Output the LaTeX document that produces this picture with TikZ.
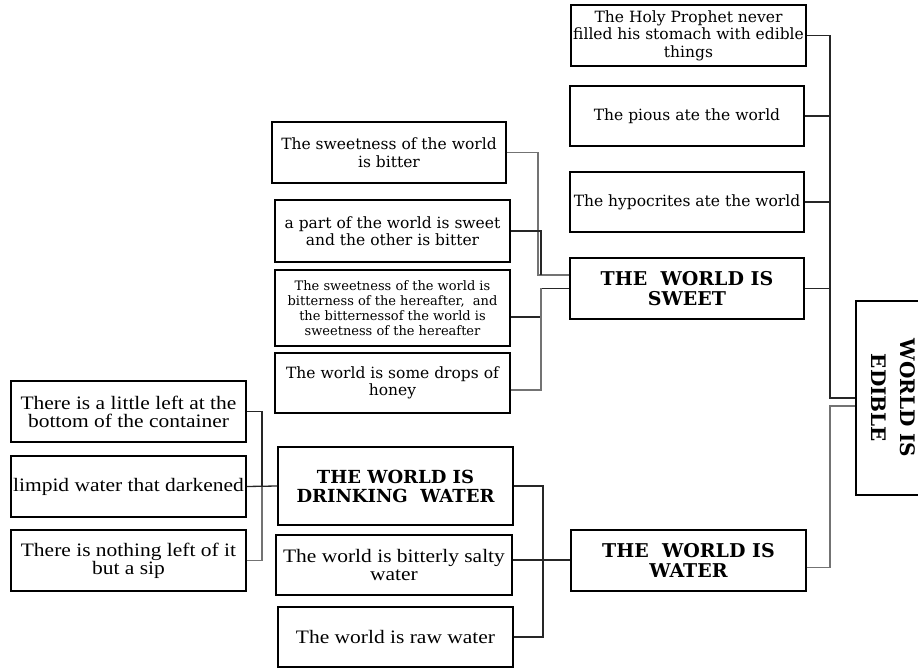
\documentclass[tikz,border=0pt]{standalone}
\usepackage{fontspec}
\setmainfont{DejaVu Serif}
\newfontfamily\tms[FakeStretch=1.13]{Liberation Serif}
\begin{document}
\begin{tikzpicture}[x=1pt,y=-1pt,
  box/.style={draw=black,line width=1.4pt,inner sep=0pt,align=center,minimum width=235pt,minimum height=61pt,font={\fontsize{15.5}{17.5}\selectfont}},
  tbox/.style={box,font={\tms\fontsize{19}{18}\selectfont}},
  hbox/.style={box,font={\bfseries\fontsize{19}{20}\selectfont}},
  link/.style={draw=black!85,line width=1.3pt},
  glink/.style={draw=black!55,line width=1.5pt}]
\useasboundingbox (0,0) rectangle (918,668);
% right column
\node[box] (hp) at (688.5,35.5) {The Holy Prophet never\\filled his stomach with edible\\things};
\node[box,minimum width=234pt,minimum height=60pt] (pious) at (687,116) {The pious ate the world};
\node[box,minimum width=234pt,minimum height=60pt] (hyp) at (687,202) {The hypocrites ate the world};
\node[hbox,minimum width=234pt] (sweet) at (687,288.5) {THE\ \ WORLD IS\\SWEET};
\node[hbox] (water) at (688.5,560.5) {THE\ \ WORLD IS\\WATER};
\node[draw=black,line width=1.4pt,minimum width=64pt,minimum height=194pt,inner sep=0pt] (edible) at (888,398) {};
\node[font={\bfseries\fontsize{20}{29}\selectfont},inner sep=0pt] (ediblet) at (892,398) {\rotatebox{-90}{\begin{tabular}{@{}c@{}}WORLD IS\\EDIBLE\end{tabular}}};
% sweet children
\node[box,minimum width=234pt] (sb) at (389,152.5) {The sweetness of the world\\is bitter};
\node[box,minimum height=62pt] (part) at (392.5,231) {a part of the world is sweet\\and the other is bitter};
\node[box,minimum height=76pt,font={\fontsize{13}{15}\selectfont}] (here) at (392.5,308) {The sweetness of the world is\\bitterness of the hereafter,\ \ and\\the bitternessof the world is\\sweetness of the hereafter};
\node[box,minimum height=60pt] (honey) at (392.5,383) {The world is some drops of\\honey};
% water children
\node[hbox,minimum height=78pt,font={\bfseries\fontsize{18}{19}\selectfont}] (drink) at (395.5,486) {THE WORLD IS\\DRINKING\ \ WATER};
\node[tbox,minimum width=236pt,minimum height=60pt] (salty) at (394,565) {The world is bitterly salty\\water};
\node[tbox,minimum height=60pt] (raw) at (395.5,637) {The world is raw water};
% left column
\node[tbox] (little) at (128.5,411.5) {There is a little left at the\\bottom of the container};
\node[tbox] (limpid) at (128.5,486.5) {limpid water that darkened};
\node[tbox] (nothing) at (128.5,560.5) {There is nothing left of it\\but a sip};
% connectors right
\coordinate (r1) at (830,398);
\coordinate (r2) at (830,406);
\draw[link] (hp.east) -| (r1) -- (r1 -| edible.west);
\draw[link] (pious.east) -- (pious.east -| r1);
\draw[link] (hyp.east) -- (hyp.east -| r1);
\draw[link] (sweet.east) -- (sweet.east -| r1);
\draw[glink] ([yshift=-7pt]water.east) -| (r2) -- (r2 -| edible.west);
% sweet children connectors
\coordinate (s1) at (538,275);
\coordinate (s2) at (541,275);
\coordinate (s3) at (541,288.5);
\draw[glink] (sb.east) -| (s1) -- (s1 -| sweet.west);
\draw[link] (part.east) -| (s2);
\draw[link] ([yshift=-9pt]here.east) -| (s3) -- (sweet.west);
\draw[glink] ([yshift=-7pt]honey.east) -| (s3);
% water children connectors
\coordinate (w1) at (543,560);
\draw[link] (drink.east) -| (w1);
\draw[link] (raw.east) -| (w1);
\draw[link] (salty.east |- w1) -- (water.west |- w1);
% left connectors
\coordinate (l1) at (262,486);
\draw[link] (little.east) -| (l1);
\draw[glink] (nothing.east) -| (l1);
\draw[link] (limpid.east) -- (drink.west);
\end{tikzpicture}
\end{document}
